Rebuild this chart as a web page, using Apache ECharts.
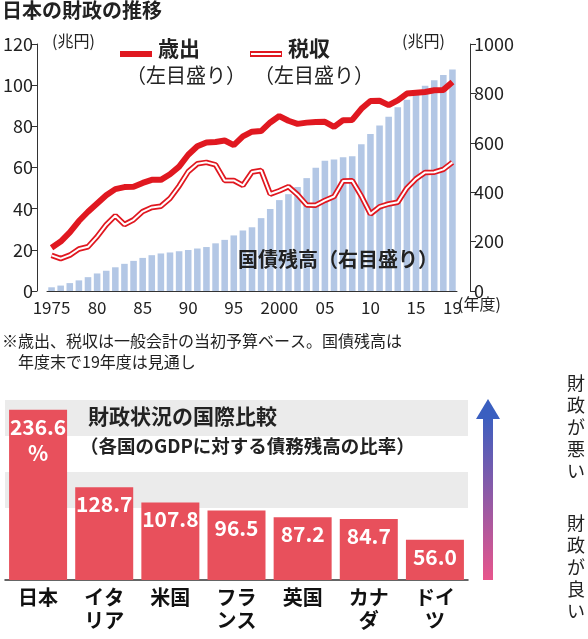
<!DOCTYPE html>
<html><head><meta charset="utf-8">
<script src="https://cdn.jsdelivr.net/npm/echarts@6/dist/echarts.min.js"></script>
<style>html,body{margin:0;padding:0;background:#fff}#c{width:588px;height:639px}</style>
</head><body><div id="c"></div>
<script>
// 日本の財政の推移
const years = [];
for (let y = 1975; y <= 2019; y++) years.push(String(y));
const spending = [21, 24, 28.5, 34, 38.5, 42.5, 46.5, 49.5, 50.5, 50.6, 52.5, 54, 54, 56.7, 60.4, 66.2, 70.3, 72.2, 72.4, 73.1, 70.9, 75.1, 77.4, 77.7, 81.9, 85, 82.7, 81.2, 81.8, 82.1, 82.2, 79.7, 83, 83.1, 88.5, 92.3, 92.4, 90.3, 92.6, 95.9, 96.3, 96.7, 97.5, 97.7, 101.5];
const taxRevenue = [17.3, 15.7, 17.4, 20.4, 21.5, 26.4, 32.2, 36.6, 32.3, 34.6, 38.6, 40.6, 41.2, 45, 51, 58, 61.8, 62.5, 61.3, 53.7, 53.7, 51.3, 57.8, 58.5, 47.1, 48.7, 50.7, 46.8, 41.8, 41.7, 44, 45.9, 53.5, 53.6, 46.1, 37.4, 40.9, 42.3, 43.1, 50, 54.5, 57.6, 57.7, 59.1, 62.5];
const debt = [15, 22, 32, 43, 56, 71, 82, 96, 110, 122, 134, 145, 152, 156, 161, 166, 172, 178, 193, 207, 225, 245, 258, 295, 332, 368, 392, 421, 457, 499, 527, 532, 541, 546, 594, 636, 670, 705, 744, 774, 805, 831, 853, 874, 897];
const yearTicks = {1975: '1975', 1980: '80', 1985: '85', 1990: '90', 1995: '95', 2000: '2000', 2005: '05', 2010: '10', 2015: '15', 2019: '19'};

// 財政状況の国際比較
const countries = ['日本', 'イタ\nリア', '米国', 'フラ\nンス', '英国', 'カナ\nダ', 'ドイ\nツ'];
const debtRatio = [236.6, 128.7, 107.8, 96.5, 87.2, 84.7, 56.0];

const F = '"Noto Sans CJK JP", sans-serif';
const RED = '#e01820';
const chart = echarts.init(document.getElementById('c'));

function txt(x, y, s, size) {
  return {type: 'text', left: x, top: y, z: 100,
    style: {text: s, fontFamily: F, fontWeight: 'bold', fontSize: size, fill: '#222'}};
}

chart.setOption({
  animation: false,
  grid: [
    {left: 47, right: 131, top: 44, bottom: 348},
    {left: 5, right: 120, top: 400, bottom: 59}
  ],
  xAxis: [
    {type: 'category', gridIndex: 0, data: years,
     axisLine: {lineStyle: {color: '#333'}}, axisTick: {show: false},
     axisLabel: {interval: 0, color: '#222', fontFamily: F, fontSize: 17, margin: 8,
       formatter: v => yearTicks[v] || ''}},
    {type: 'category', gridIndex: 1, data: countries,
     axisLine: {lineStyle: {color: '#333', width: 1.5}}, axisTick: {show: false},
     axisLabel: {interval: 0, color: '#111', fontFamily: F, fontWeight: 'bold', fontSize: 20, lineHeight: 23, margin: 6}}
  ],
  yAxis: [
    {type: 'value', gridIndex: 0, min: 0, max: 120, interval: 20, offset: 10,
     axisLine: {show: true, lineStyle: {color: '#333'}}, axisTick: {show: true, length: 6},
     splitLine: {show: false}, axisLabel: {color: '#222', fontFamily: F, fontSize: 18, margin: 4}},
    {type: 'value', gridIndex: 0, min: 0, max: 1000, interval: 200, offset: 13, position: 'right',
     axisLine: {show: true, lineStyle: {color: '#333'}}, axisTick: {show: true, length: 6},
     splitLine: {show: false}, axisLabel: {color: '#222', fontFamily: F, fontSize: 18, margin: 4, formatter: v => String(v)}},
    {type: 'value', gridIndex: 1, min: 0, max: 250, interval: 50, show: false, splitLine: {show: false}}
  ],
  series: [
    {type: 'bar', xAxisIndex: 0, yAxisIndex: 1, data: debt, barWidth: '72%',
     itemStyle: {color: '#b3c7e5'}},
    {type: 'line', xAxisIndex: 0, yAxisIndex: 0, data: taxRevenue, symbol: 'none',
     lineStyle: {color: RED, width: 5.5}, z: 3},
    {type: 'line', xAxisIndex: 0, yAxisIndex: 0, data: taxRevenue, symbol: 'none',
     lineStyle: {color: '#fff', width: 2}, z: 4},
    {type: 'line', xAxisIndex: 0, yAxisIndex: 0, data: spending, symbol: 'none',
     lineStyle: {color: RED, width: 6}, z: 5},
    {type: 'bar', xAxisIndex: 1, yAxisIndex: 2, data: debtRatio, barWidth: 58,
     itemStyle: {color: '#e8505c'},
     label: {show: true, position: 'insideTop', distance: 4, color: '#fff', fontFamily: F,
       fontWeight: 'bold', fontSize: 21, lineHeight: 26, textBorderColor: '#e8505c', textBorderWidth: 2,
       formatter: p => p.dataIndex === 0 ? p.value.toFixed(1) + '\n%' : p.value.toFixed(1)},
     markArea: {silent: true, itemStyle: {color: '#ebebeb'},
       data: [[{yAxis: 100}, {yAxis: 150}], [{yAxis: 200}, {yAxis: 250}]]},
     z: 2}
  ],
  graphic: [
    txt(2, 0, '日本の財政の推移', 20),
    {type: 'text', left: 52, top: 33, style: {text: '(兆円)', font: '16px ' + F, fill: '#222'}},
    {type: 'text', left: 402, top: 33, style: {text: '(兆円)', font: '16px ' + F, fill: '#222'}},
    {type: 'line', shape: {x1: 120, y1: 54, x2: 152, y2: 54}, style: {stroke: RED, lineWidth: 6}},
    txt(158, 38, '歳出', 21),
    {type: 'text', left: 126, top: 65, style: {text: '（左目盛り）', font: '20px ' + F, fill: '#222'}},
    {type: 'line', shape: {x1: 250, y1: 54, x2: 282, y2: 54}, style: {stroke: RED, lineWidth: 6}},
    {type: 'line', shape: {x1: 251, y1: 54, x2: 281, y2: 54}, style: {stroke: '#fff', lineWidth: 2}},
    txt(288, 38, '税収', 21),
    {type: 'text', left: 254, top: 65, style: {text: '（左目盛り）', font: '20px ' + F, fill: '#222'}},
    txt(238, 249, '国債残高（右目盛り）', 20),
    {type: 'text', left: 458, top: 296, style: {text: '(年度)', font: '16px ' + F, fill: '#222'}},
    {type: 'text', left: 2, top: 330, style: {text: '※歳出、税収は一般会計の当初予算ベース。国債残高は\n　年度末で19年度は見通し', font: '16px ' + F, lineHeight: 21, fill: '#222'}},
    txt(88, 406, '財政状況の国際比較', 21),
    txt(80, 437, '（各国のGDPに対する債務残高の比率）', 18.5),
    {type: 'rect', shape: {x: 483, y: 415, width: 10, height: 165},
     style: {fill: new echarts.graphic.LinearGradient(0, 0, 0, 1, [{offset: 0, color: '#3a5fc0'}, {offset: 1, color: '#e8558c'}])}},
    {type: 'polygon', shape: {points: [[476, 419], [488, 399], [500, 419]]}, style: {fill: '#3a5fc0'}},
    {type: 'text', left: 567, top: 372, style: {text: '財\n政\nが\n悪\nい', font: '18px ' + F, lineHeight: 22, fill: '#222'}},
    {type: 'text', left: 567, top: 512, style: {text: '財\n政\nが\n良\nい', font: '18px ' + F, lineHeight: 22, fill: '#222'}}
  ]
});
</script></body></html>
